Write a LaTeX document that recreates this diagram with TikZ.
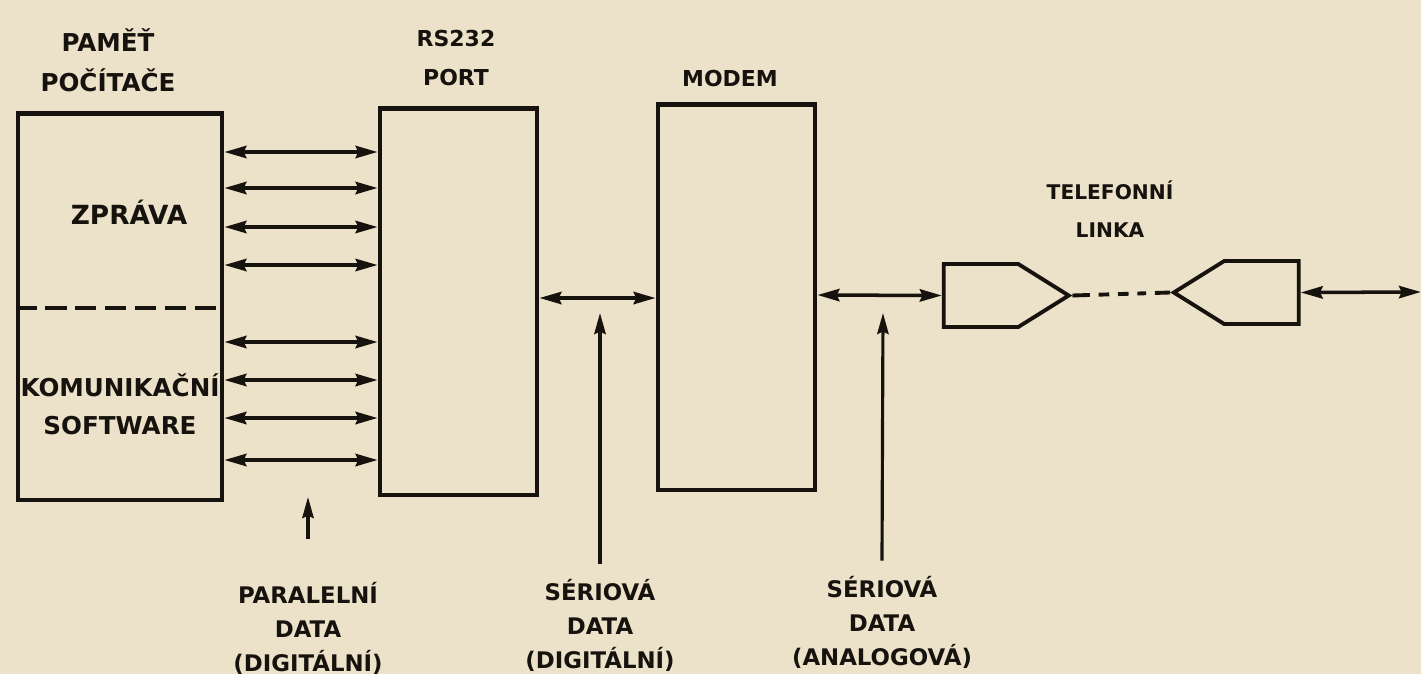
\documentclass[tikz,border=0pt]{standalone}
\usepackage{fontspec}
\setmainfont{DejaVu Sans}
\usetikzlibrary{arrows.meta, shapes.symbols}
\definecolor{paper}{RGB}{236,226,201}
\definecolor{ink}{RGB}{22,18,14}
\newcommand\lblsize[2]{\fontsize{#1}{#2}\selectfont\bfseries}

\begin{document}
\begin{tikzpicture}[x=0.02cm, y=-0.02cm,
    lbl/.style={font=\lblsize{13}{19.3}, text=ink, align=center, inner sep=0pt},
    block/.style={draw=ink, line width=2.8pt, inner sep=0pt},
    line/.style={signal, signal pointer angle=64, draw=ink, line width=2.2pt, inner sep=0pt,
        minimum width=2.5cm, minimum height=1.26cm},
    bus/.style={draw=ink, line width=2pt, {Stealth[length=12.5pt,width=7pt,inset=1.5pt]}-{Stealth[length=12.5pt,width=7pt,inset=1.5pt]}},
    pointer/.style={draw=ink, line width=1.8pt, -{Stealth[length=12pt,width=6.5pt,inset=1.5pt]}}]
    % Paper
    \fill[paper] (0,0) rectangle (1421,674);
    \useasboundingbox (0,0) rectangle (1421,674);

    % Blocks
    \node[block, minimum width=4.08cm, minimum height=7.74cm] (mem) at (120,306.5) {};
    \node[block, minimum width=3.14cm, minimum height=7.74cm] (port) at (458.5,301.5) {};
    \node[block, minimum width=3.14cm, minimum height=7.72cm] (modem) at (736.5,297) {};
    \draw[ink, line width=2.2pt, dash pattern=on 12pt off 5pt] (mem.west |- 0,308) -- (mem.east |- 0,308);

    % Titles
    \node[lbl, font=\lblsize{14}{22.7}] (memtitle) at (108,60) {PAMĚŤ\\POČÍTAČE};
    \node[lbl, font=\lblsize{12.5}{22.7}] (porttitle) at (456,58) {RS232\\PORT};
    \node[lbl, font=\lblsize{12.5}{20}] (modemtitle) at (730,78) {MODEM};
    \node[lbl, font=\lblsize{15}{20}] (msg) at (129,212) {ZPRÁVA};
    \node[lbl, font=\lblsize{14}{21.5}] (soft) at (120,404) {KOMUNIKAČNÍ\\SOFTWARE};
    \node[lbl, font=\lblsize{11.5}{21.5}] (linetitle) at (1110,209) {TELEFONNÍ\\LINKA};

    % Parallel bus
    \foreach \y in {152,188,227,265,342,380,418,460}
        \draw[bus] (mem.east |- 0,\y) -- (port.west |- 0,\y);

    % Serial links
    \draw[bus] (port.east |- 0,298) -- (modem.west |- 0,298);
    \node[line, signal to=east] (tx) at (981,295.5) {};
    \node[line, signal to=west] (rx) at (1261.5,292.5) {};
    \draw[bus] (modem.east |- 0,295) -- (tx.west);
    \draw[ink, line width=2.2pt, dash pattern=on 10pt off 5pt on 6pt off 5pt on 6pt off 5pt on 5pt off 5pt on 13pt]
        (tx.east) -- (rx.west);
    \coordinate (far) at (1421,292);
    \draw[bus] (rx.east) -- (far);

    % Bottom labels
    \node[lbl] (par) at (308,628) {PARALELNÍ\\DATA\\(DIGITÁLNÍ)};
    \node[lbl] (serd) at (600,625) {SÉRIOVÁ\\DATA\\(DIGITÁLNÍ)};
    \node[lbl] (sera) at (882,622) {SÉRIOVÁ\\DATA\\(ANALOGOVÁ)};
    \coordinate (partip) at (308,497);
    \coordinate (serdtip) at (600,313);
    \coordinate (seratip) at (883,313);
    \draw[pointer] ([yshift=0.86cm]par.north) -- (partip);
    \draw[pointer] ([yshift=0.3cm]serd.north) -- (serdtip);
    \draw[pointer] ([yshift=0.3cm]sera.north) -- (seratip);
\end{tikzpicture}
\end{document}
